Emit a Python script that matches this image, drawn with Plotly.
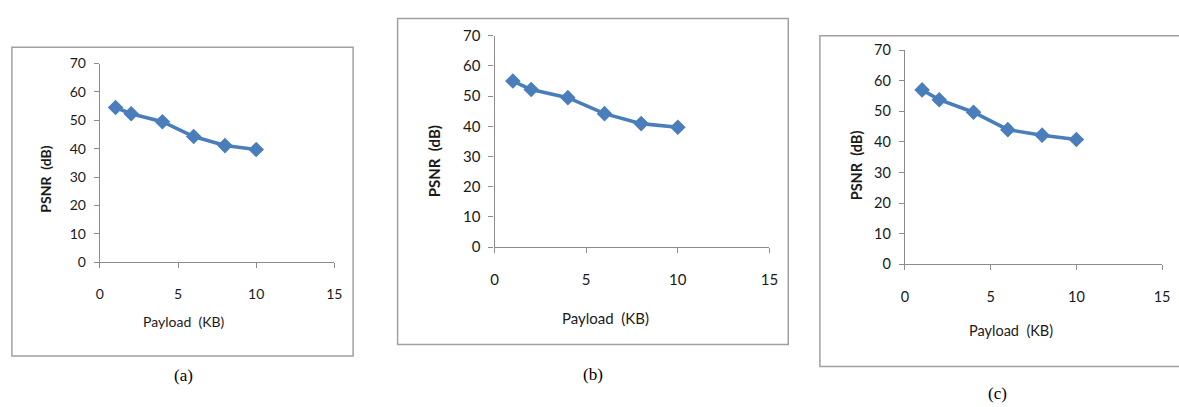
import plotly.graph_objects as go

payload = [1, 2, 4, 6, 8, 10]
psnr_a = [54.5, 52.3, 49.5, 44.3, 41.1, 39.7]
psnr_b = [55.0, 52.2, 49.5, 44.2, 40.9, 39.7]
psnr_c = [57.0, 53.8, 49.7, 44.0, 42.2, 40.8]
x_ticks = [0, 5, 10, 15]
y_ticks = [0, 10, 20, 30, 40, 50, 60, 70]
panel_labels = ["(a)", "(b)", "(c)"]

W, H = 1179, 407
LINE = "#4A7EBB"
AXIS = "#8C8C8C"
TXT = "#1a1a1a"
FONT = "Lato, Open Sans, sans-serif"

def px(x):
    return x / W

def py(y):
    return 1 - y / H

# pixel layout of each panel: axes (x0, x1, ytop, ybot), box, titles
panels = [
    dict(data=psnr_a, ax=(97, 334, 56, 264), box=(8, 39, 353, 362), fs=14,
         xt=(181, 326), yt=(42, 177), lab=(181, 382)),
    dict(data=psnr_b, ax=(496, 774, 27, 248), box=(398, 9, 793, 350), fs=15,
         xt=(608, 322), yt=(435, 158), lab=(596, 381)),
    dict(data=psnr_c, ax=(911, 1171, 42, 266), box=(825, 27, 1190, 373), fs=14.5,
         xt=(1018, 335), yt=(862, 162), lab=(1005, 401)),
]

fig = go.Figure()
shapes = []
annotations = []
for i, p in enumerate(panels):
    sfx = "" if i == 0 else str(i + 1)
    fig.add_trace(go.Scatter(
        x=payload, y=p["data"], mode="lines+markers",
        line=dict(color=LINE, width=3.6),
        marker=dict(symbol="diamond", size=12, color=LINE),
        xaxis="x" + sfx, yaxis="y" + sfx, showlegend=False, cliponaxis=False))
    x0, x1, yt, yb = p["ax"]
    fig.layout["xaxis" + sfx] = dict(
        domain=[px(x0), px(x1)], range=[0, 15], tickvals=x_ticks,
        showgrid=False, zeroline=False, showline=True, linecolor=AXIS, linewidth=1.3,
        ticks="outside", ticklen=5, tickcolor=AXIS, ticklabelstandoff=14,
        tickfont=dict(family=FONT, size=p["fs"], color=TXT),
        anchor="y" + sfx, fixedrange=True)
    fig.layout["yaxis" + sfx] = dict(
        domain=[py(yb), py(yt)], range=[0, 70], tickvals=y_ticks,
        showgrid=False, zeroline=False, showline=True, linecolor=AXIS, linewidth=1.3,
        ticks="outside", ticklen=5, tickcolor=AXIS, ticklabelstandoff=5,
        tickfont=dict(family=FONT, size=p["fs"], color=TXT),
        anchor="x" + sfx, fixedrange=True)
    bx0, by0, bx1, by1 = p["box"]
    shapes.append(dict(type="rect", xref="paper", yref="paper",
                       x0=px(bx0), x1=px(bx1), y0=py(by1), y1=py(by0),
                       line=dict(color="#A0A0A0", width=1.5), layer="below"))
    annotations.append(dict(text="Payload  (KB)", x=px(p["xt"][0]), y=py(p["xt"][1]),
                            xref="paper", yref="paper", showarrow=False,
                            xanchor="center", yanchor="middle",
                            font=dict(family=FONT, size=p["fs"], color=TXT)))
    annotations.append(dict(text="<b>PSNR  (dB)</b>", x=px(p["yt"][0]), y=py(p["yt"][1]),
                            xref="paper", yref="paper", showarrow=False, textangle=-90,
                            xanchor="center", yanchor="middle",
                            font=dict(family=FONT, size=p["fs"], color=TXT)))
    annotations.append(dict(text=panel_labels[i], x=px(p["lab"][0]), y=py(p["lab"][1]),
                            xref="paper", yref="paper", showarrow=False,
                            xanchor="center", yanchor="middle",
                            font=dict(family="Liberation Serif, serif", size=17, color="#000")))

fig.update_layout(width=W, height=H, margin=dict(l=0, r=0, t=0, b=0),
                  paper_bgcolor="white", plot_bgcolor="white",
                  shapes=shapes, annotations=annotations)
fig.write_html("out.html", config={"displayModeBar": False},
               post_script="document.body.style.margin='0';document.body.style.overflow='hidden';")
